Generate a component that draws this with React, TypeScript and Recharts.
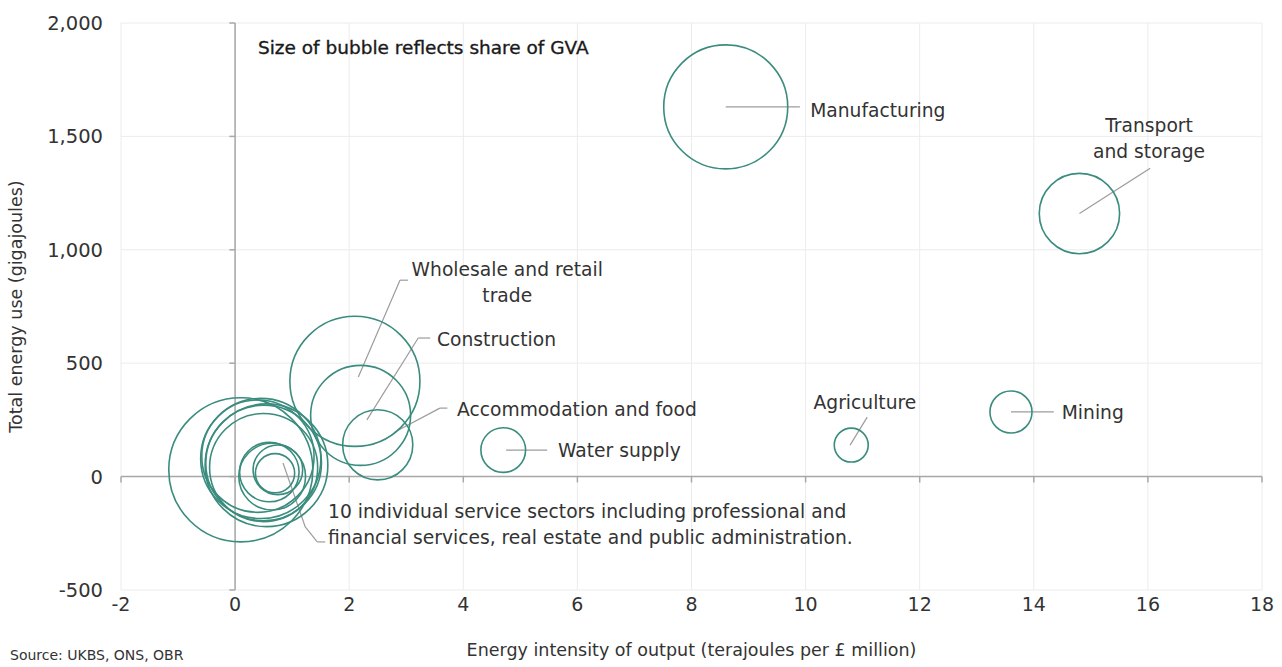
import React from 'react';
import { ScatterChart, Scatter, XAxis, YAxis, ZAxis, CartesianGrid, ReferenceLine, ReferenceDot } from 'recharts';

// sector bubbles: energy intensity (TJ per £m), total energy use (GJ), share of GVA (%)
const sectors = [
  'Manufacturing', 'Transport and storage', 'Wholesale and retail trade', 'Construction',
  'Accommodation and food', 'Water supply', 'Agriculture', 'Mining',
  'Services 1', 'Services 2', 'Services 3', 'Services 4', 'Services 5',
  'Services 6', 'Services 7', 'Services 8', 'Services 9', 'Services 10'
];
const intensity = [8.6, 14.8, 2.1, 2.2, 2.5, 4.7, 10.8, 13.6, 0.1, 0.45, 0.5, 0.4, 0.55, 0.5, 0.65, 0.6, 0.7, 0.75];
const energyUse = [1630, 1160, 420, 270, 140, 117, 139, 285, 30, 80, 60, 90, 50, 40, 0, 20, 15, 30];
const gvaShare = [10, 4.2, 11, 6.5, 3.2, 1.3, 0.75, 1.15, 13.5, 9.4, 8.7, 8.2, 9.8, 7.6, 2.9, 2.3, 1.0, 1.6];

const xTicks = [-2, 0, 2, 4, 6, 8, 10, 12, 14, 16, 18];
const yTicks = [-500, 0, 500, 1000, 1500, 2000];

// annotation text, placed in data units
const notes = [
  { lines: ['Size of bubble reflects share of GVA'], x: 0.4, y: 1894, anchor: 'start', bold: true },
  { lines: ['Manufacturing'], x: 10.08, y: 1616, anchor: 'start' },
  { lines: ['Transport', 'and storage'], x: 16.02, y: 1495, anchor: 'middle' },
  { lines: ['Wholesale and retail', 'trade'], x: 4.77, y: 858, anchor: 'middle' },
  { lines: ['Construction'], x: 3.54, y: 607, anchor: 'start' },
  { lines: ['Accommodation and food'], x: 3.89, y: 298, anchor: 'start' },
  { lines: ['Water supply'], x: 5.66, y: 117, anchor: 'start' },
  { lines: ['Agriculture'], x: 11.04, y: 329, anchor: 'middle' },
  { lines: ['Mining'], x: 14.49, y: 285, anchor: 'start' },
  { lines: ['10 individual service sectors including professional and', 'financial services, real estate and public administration.'], x: 1.63, y: -209, anchor: 'start' }
];

// leader lines from bubbles to their labels
const leaders = [
  [[8.6, 1630], [9.9, 1630]],
  [[14.8, 1160], [16.04, 1360]],
  [[2.16, 439], [2.89, 866], [3.03, 866]],
  [[2.31, 250], [3.21, 611], [3.42, 611]],
  [[2.8, 197], [3.59, 302], [3.72, 302]],
  [[4.75, 117], [5.47, 117]],
  [[10.78, 139], [11.08, 262]],
  [[13.6, 285], [14.35, 285]],
  [[0.84, 60], [1.23, -222], [1.44, -288], [1.58, -288]]
];

const FONT = '"DejaVu Sans", sans-serif';
const TEAL = '#3a8c7e';
const AXIS = '#a8a8a8';

const data = sectors.map((name, i) => ({ name, x: intensity[i], y: energyUse[i], z: gvaShare[i] }));

const NoteText = ({ viewBox, lines, anchor, bold }: any) => {
  const cx = viewBox.x + viewBox.width / 2;
  const cy = viewBox.y + viewBox.height / 2;
  const lh = 26;
  const y0 = cy - ((lines.length - 1) * lh) / 2;
  return <text x={cx} y={y0} textAnchor={anchor} dominantBaseline="central" fontFamily={FONT} fontSize={bold ? 18.5 : 18.7} fill={bold ? '#1a1a1a' : '#333'} stroke={bold ? '#1a1a1a' : 'none'} strokeWidth={bold ? 0.35 : 0}>
      {lines.map((l: string, i: number) => <tspan key={i} x={cx} y={y0 + i * lh}>{l}</tspan>)}
    </text>;
};

const YTitle = ({ viewBox }: any) => {
  const x = 16;
  const y = viewBox.y + viewBox.height / 2;
  return <text x={x} y={y} transform={`rotate(-90, ${x}, ${y})`} textAnchor="middle" dominantBaseline="central" fontFamily={FONT} fontSize={17.5} fill="#333">
      Total energy use (gigajoules)
    </text>;
};

const XTitle = ({ viewBox }: any) => {
  const x = viewBox.x + viewBox.width / 2;
  return <text x={x} y={650} textAnchor="middle" dominantBaseline="central" fontFamily={FONT} fontSize={17.5} fill="#333">
      Energy intensity of output (terajoules per £ million)
    </text>;
};

export default function App() {
  return <div style={{ position: 'absolute', left: 0, top: 0, width: 1282, height: 667, overflow: 'hidden', background: '#fff' }}>
      <ScatterChart width={1282} height={667} margin={{ top: 23, right: 20, bottom: 17, left: 0 }}>
        <CartesianGrid stroke="#ececec" />
        <XAxis type="number" dataKey="x" domain={[-2, 18]} ticks={xTicks} interval={0} axisLine={false} tickLine={false} height={60} tickMargin={2} tick={{ fontFamily: FONT, fontSize: 19, fill: '#333' }} label={{ content: <XTitle /> }} />
        <YAxis type="number" dataKey="y" domain={[-500, 2000]} ticks={yTicks} interval={0} axisLine={false} tickLine={false} width={121} tickMargin={12} tickFormatter={v => v.toLocaleString('en-GB')} tick={{ fontFamily: FONT, fontSize: 19.5, fill: '#333' }} label={{ content: <YTitle /> }} />
        <ZAxis type="number" dataKey="z" domain={[0, 15]} range={[0, 18114]} />
        <ReferenceLine x={0} stroke={AXIS} strokeWidth={1.5} />
        <ReferenceLine y={0} stroke={AXIS} strokeWidth={1.5} />
        {yTicks.map(t => <ReferenceLine key={`yt${t}`} segment={[{ x: -0.1, y: t }, { x: 0, y: t }]} stroke={AXIS} strokeWidth={1.5} />)}
        {xTicks.map(t => <ReferenceLine key={`xt${t}`} segment={[{ x: t, y: 0 }, { x: t, y: -26 }]} stroke={AXIS} strokeWidth={1.5} />)}
        <Scatter data={data} fill="none" stroke={TEAL} strokeWidth={1.6} isAnimationActive={false} />
        {leaders.map((pts, i) => pts.slice(1).map((p, j) => <ReferenceLine key={`l${i}-${j}`} segment={[{ x: pts[j][0], y: pts[j][1] }, { x: p[0], y: p[1] }]} stroke="#9c9c9c" strokeWidth={1.2} ifOverflow="visible" />))}
        {notes.map((n, i) => <ReferenceDot key={`n${i}`} x={n.x} y={n.y} r={0} fill="none" stroke="none" ifOverflow="visible" label={<NoteText lines={n.lines} anchor={n.anchor} bold={n.bold} />} />)}
      </ScatterChart>
      <div style={{ position: 'absolute', left: 10, top: 647, fontFamily: FONT, fontSize: 14, color: '#333', whiteSpace: 'nowrap' }}>
        Source: UKBS, ONS, OBR
      </div>
    </div>;
}
